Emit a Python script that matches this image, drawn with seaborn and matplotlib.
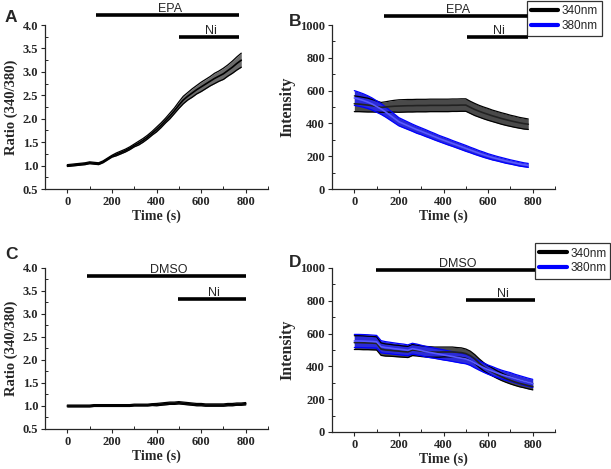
"""
Fura-2 calcium imaging panels: 340/380 ratio and single-wavelength intensities
for EPA and DMSO, with Ni application bars.
"""

import matplotlib
import numpy as np
import seaborn as sns

matplotlib.use("Agg")
import matplotlib.pyplot as plt
from matplotlib.lines import Line2D
from matplotlib.ticker import MultipleLocator

# ---- data ----
TIME_EPA = list(range(0, 781, 20))
TIME_DMSO = list(range(0, 801, 20))

ratio_epa = [1.00, 1.01, 1.02, 1.03, 1.04, 1.06, 1.05, 1.04, 1.08, 1.14,
             1.20, 1.24, 1.28, 1.32, 1.37, 1.43, 1.48, 1.54, 1.61, 1.69,
             1.77, 1.86, 1.96, 2.06, 2.17, 2.29, 2.40, 2.48, 2.55, 2.62,
             2.68, 2.74, 2.80, 2.86, 2.91, 2.96, 3.03, 3.10, 3.18, 3.25]
ratio_epa_err = [0.02, 0.02, 0.02, 0.02, 0.02, 0.02, 0.02, 0.02, 0.02, 0.02,
                 0.02, 0.03, 0.03, 0.03, 0.03, 0.03, 0.04, 0.04, 0.04, 0.04,
                 0.05, 0.05, 0.05, 0.06, 0.06, 0.07, 0.08, 0.08, 0.09, 0.09,
                 0.10, 0.10, 0.10, 0.11, 0.11, 0.12, 0.12, 0.13, 0.14, 0.15]

int340_epa = [520, 518, 515, 512, 508, 503, 498, 500, 503, 505,
              506, 507, 508, 508, 509, 509, 509, 510, 510, 510,
              510, 510, 511, 511, 512, 512, 498, 485, 474, 464,
              455, 446, 438, 430, 423, 416, 410, 404, 399, 395]
int340_epa_err = [48, 46, 44, 42, 38, 34, 30, 32, 34, 36,
                  38, 38, 38, 38, 38, 38, 38, 38, 38, 38,
                  38, 38, 38, 38, 38, 38, 37, 37, 36, 36,
                  36, 35, 35, 35, 35, 34, 34, 33, 33, 32]
int380_epa = [555, 548, 540, 530, 518, 503, 488, 470, 450, 430,
              410, 398, 386, 374, 362, 352, 341, 330, 319, 308,
              298, 288, 278, 268, 258, 248, 238, 228, 218, 209,
              200, 192, 185, 178, 171, 165, 159, 153, 148, 144]
int380_epa_err = [45, 43, 41, 39, 37, 35, 33, 31, 29, 27,
                  25, 24, 23, 22, 22, 21, 21, 20, 20, 19,
                  19, 19, 18, 18, 18, 18, 17, 17, 16, 16,
                  15, 15, 14, 14, 14, 13, 13, 13, 12, 12]

ratio_dmso = [1.00, 1.00, 1.00, 1.00, 1.00, 1.00, 1.01, 1.01, 1.01, 1.01,
              1.01, 1.01, 1.01, 1.01, 1.01, 1.02, 1.02, 1.02, 1.02, 1.03,
              1.03, 1.04, 1.05, 1.06, 1.06, 1.07, 1.06, 1.05, 1.04, 1.03,
              1.03, 1.02, 1.02, 1.02, 1.02, 1.02, 1.03, 1.03, 1.04, 1.04,
              1.05]
ratio_dmso_err = [0.02] * 20 + [0.025] * 21

int340_dmso = [545, 545, 544, 543, 542, 540, 505, 500, 498, 495,
               493, 490, 488, 500, 497, 493, 490, 488, 487, 487,
               488, 488, 488, 486, 484, 478, 465, 445, 420, 398,
               380, 365, 350, 337, 325, 315, 305, 297, 290, 283,
               277]
int340_dmso_err = [42, 42, 42, 41, 41, 40, 38, 37, 36, 35,
                   35, 34, 34, 34, 33, 33, 32, 32, 31, 31,
                   30, 30, 30, 29, 29, 28, 28, 27, 26, 25,
                   24, 24, 23, 23, 22, 22, 21, 21, 20, 20,
                   20]
int380_dmso = [555, 555, 554, 553, 552, 550, 520, 515, 512, 508,
               505, 502, 498, 508, 503, 497, 490, 485, 480, 475,
               470, 465, 460, 455, 450, 445, 435, 420, 405, 392,
               380, 370, 360, 350, 342, 335, 326, 318, 310, 303,
               296]
int380_dmso_err = [40, 40, 40, 40, 39, 39, 37, 36, 35, 35,
                   34, 34, 33, 33, 33, 32, 32, 32, 31, 31,
                   31, 30, 30, 30, 30, 29, 29, 29, 28, 28,
                   28, 28, 27, 27, 27, 27, 26, 26, 26, 25,
                   25]

# treatment bars: (label, start, stop, y)
bars_a = [("EPA", 130, 770, 4.21), ("Ni", 500, 770, 3.74)]
bars_b = [("EPA", 134, 780, 1057), ("Ni", 504, 777, 927)]
bars_c = [("DMSO", 90, 800, 3.83), ("Ni", 498, 800, 3.33)]
bars_d = [("DMSO", 98, 810, 988), ("Ni", 502, 808, 805)]

WAVE_LABELS = ["340nm", "380nm"]

SERIF = "Liberation Serif"
SANS = "Liberation Sans"


def configure_plot_style() -> None:
    sns.set_style("ticks")
    plt.rcParams.update(
        {
            "font.family": [SERIF, "DejaVu Serif"],
            "font.weight": "bold",
            "axes.labelweight": "bold",
            "axes.linewidth": 0.9,
            "xtick.labelsize": 9,
            "ytick.labelsize": 9,
        }
    )


def draw_band(ax, t, mean, err, face, edge, center):
    t = np.asarray(t)
    mean = np.asarray(mean)
    err = np.asarray(err)
    ax.fill_between(t, mean - err, mean + err, color=face, lw=0, zorder=2)
    ax.plot(t, mean - err, color=edge, lw=0.9, zorder=3)
    ax.plot(t, mean + err, color=edge, lw=0.9, zorder=3)
    sns.lineplot(x=t, y=mean, ax=ax, color=center, lw=1.2, zorder=4)


def draw_bars(ax, bars):
    for label, start, stop, y in bars:
        ax.plot([start, stop], [y, y], color="black", lw=2.6,
                solid_capstyle="butt", clip_on=False, zorder=5)
        ax.text((start + stop) / 2 + 10, y, label, ha="center", va="bottom",
                fontsize=9, family=SANS, fontweight="normal", clip_on=False)


def style_axes(ax, ylim, ymajor, yminor, ylabel, ylabel_size):
    ax.set_xlim(-100, 900)
    ax.set_ylim(*ylim)
    ax.xaxis.set_major_locator(MultipleLocator(200))
    ax.xaxis.set_minor_locator(MultipleLocator(100))
    ax.yaxis.set_major_locator(MultipleLocator(ymajor))
    ax.yaxis.set_minor_locator(MultipleLocator(yminor))
    ax.tick_params(which="major", direction="out", length=3, width=0.8, pad=2)
    ax.tick_params(which="minor", direction="in", length=2, width=0.7)
    sns.despine(ax=ax)
    ax.set_xlabel("Time (s)", fontsize=10, labelpad=1)
    ax.set_ylabel(ylabel, fontsize=ylabel_size, labelpad=3)
    ax.grid(False)


def main() -> None:
    configure_plot_style()
    fig = plt.figure(figsize=(6.11, 4.69), dpi=100)

    ax_a = fig.add_axes([0.0737, 0.597, 0.365, 0.3496])
    ax_b = fig.add_axes([0.5434, 0.597, 0.365, 0.3496])
    ax_c = fig.add_axes([0.0737, 0.0853, 0.365, 0.3433])
    ax_d = fig.add_axes([0.5434, 0.0789, 0.365, 0.3497])

    gray_face, blue_face = "#4a4a4a", "#2b2bd8"

    # A: EPA ratio
    draw_band(ax_a, TIME_EPA, ratio_epa, ratio_epa_err, "#6a6a6a", "black", "black")
    style_axes(ax_a, (0.5, 4.0), 0.5, 0.25, "Ratio (340/380)", 10.5)
    draw_bars(ax_a, bars_a)

    # B: EPA intensities
    draw_band(ax_b, TIME_EPA, int340_epa, int340_epa_err, gray_face, "black", "#222222")
    draw_band(ax_b, TIME_EPA, int380_epa, int380_epa_err, blue_face, "#0000ff", "#5a5aff")
    style_axes(ax_b, (0, 1000), 200, 100, "Intensity", 11.5)
    draw_bars(ax_b, bars_b)

    # C: DMSO ratio
    draw_band(ax_c, TIME_DMSO, ratio_dmso, ratio_dmso_err, "#6a6a6a", "black", "black")
    style_axes(ax_c, (0.5, 4.0), 0.5, 0.25, "Ratio (340/380)", 10.5)
    draw_bars(ax_c, bars_c)

    # D: DMSO intensities
    draw_band(ax_d, TIME_DMSO, int340_dmso, int340_dmso_err, gray_face, "black", "#222222")
    draw_band(ax_d, TIME_DMSO, int380_dmso, int380_dmso_err, blue_face, "#0000ff", "#5a5aff")
    style_axes(ax_d, (0, 1000), 200, 100, "Intensity", 11.5)
    draw_bars(ax_d, bars_d)

    handles = [Line2D([], [], color="black", lw=3),
               Line2D([], [], color="#0000ff", lw=3)]
    for anchor in [(0.862, 0.998), (0.876, 0.481)]:
        leg = fig.legend(handles, WAVE_LABELS, loc="upper left", bbox_to_anchor=anchor,
                         frameon=True, fancybox=False, edgecolor="black",
                         prop={"family": SANS, "size": 8.5, "weight": "normal"},
                         handlelength=2.3, handletextpad=0.3, borderpad=0.35,
                         labelspacing=0.25, borderaxespad=0)
        leg.get_frame().set_linewidth(0.9)
        leg.set_zorder(10)

    for letter, x, y in [("A", 0.008, 0.963), ("B", 0.472, 0.955),
                         ("C", 0.008, 0.458), ("D", 0.472, 0.44)]:
        fig.text(x, y, letter, family=SANS, fontsize=12.5, fontweight="bold",
                 va="center", ha="left")

    fig.savefig("out.png", dpi=100)
    plt.close(fig)


if __name__ == "__main__":
    main()
